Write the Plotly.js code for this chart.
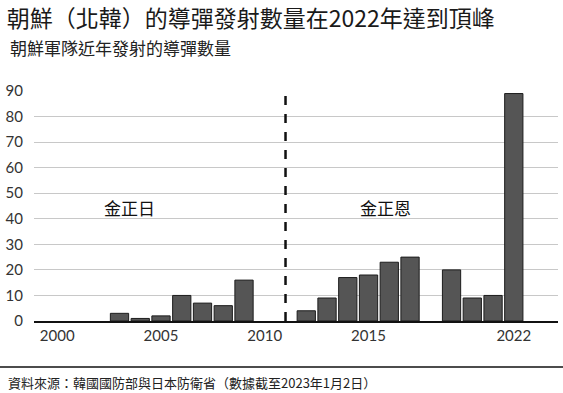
<!DOCTYPE html>
<html>
<head>
<meta charset="utf-8">
<script src="https://cdn.plot.ly/plotly-3.0.1.min.js"></script>
<style>html,body{margin:0;padding:0;background:#fff;}#chart{width:563px;height:393px;}</style>
</head>
<body>
<div id="chart"></div>
<script>
const years = [2000,2001,2002,2003,2004,2005,2006,2007,2008,2009,2010,2011,2012,2013,2014,2015,2016,2017,2018,2019,2020,2021,2022];
const launches = [0,0,0,3,1,2,10,7,6,16,0,0,4,9,17,18,23,25,0,20,9,10,89];
const tickYears = [2000,2005,2010,2015,2022];
const yTicks = [0,10,20,30,40,50,60,70,80,90];
const eraLabels = ["金正日","金正恩"];
const eraLabelX = [2003.5, 2015.8];
const eraLabelY = [44.5, 44.5];
const transitionYear = 2011;
const titleText = "朝鮮（北韓）的導彈發射數量在2022年達到頂峰";
const subtitleText = "朝鮮軍隊近年發射的導彈數量";
const sourceText = "資料來源：韓國國防部與日本防衛省（數據截至2023年1月2日）";

const cjk = '"Noto Sans CJK TC", "Noto Sans CJK SC", sans-serif';
const num = 'Lato, "DejaVu Sans", sans-serif';

const trace = {
  type: 'bar',
  x: years,
  y: launches,
  width: 0.88,
  marker: {color: '#555555', line: {color: '#1c1c1c', width: launches.map(v => v > 0 ? 1 : 0)}},
  hoverinfo: 'x+y'
};

const annotations = eraLabels.map((t, i) => ({
  x: eraLabelX[i], y: eraLabelY[i], xref: 'x', yref: 'y',
  text: t, showarrow: false, font: {family: cjk, size: 17, color: '#111'}
}));
annotations.push({
  x: -0.0496, y: 1.187, xref: 'paper', yref: 'paper', xanchor: 'left', yanchor: 'middle',
  text: subtitleText, showarrow: false, font: {family: cjk, size: 17, color: '#222'}
});
annotations.push({
  x: -0.054, y: -0.268, xref: 'paper', yref: 'paper', xanchor: 'left', yanchor: 'middle',
  text: sourceText, showarrow: false, font: {family: cjk, size: 13, color: '#222'}
});

const layout = {
  width: 563, height: 393,
  margin: {l: 34, r: 5, t: 91, b: 72},
  paper_bgcolor: '#fff', plot_bgcolor: '#fff',
  showlegend: false,
  title: {
    text: titleText, x: 0.012, xanchor: 'left', xref: 'container',
    y: 0.953, yanchor: 'middle', yref: 'container',
    font: {family: cjk, size: 23, color: '#1a1a1a'}
  },
  xaxis: {
    range: [1998.88, 2024.13],
    tickvals: tickYears,
    ticktext: tickYears.map(String),
    showgrid: false, zeroline: false,
    showline: true, linecolor: '#111', linewidth: 1.5,
    ticks: '',
    tickfont: {family: num, size: 15, color: '#333'},
    fixedrange: true
  },
  yaxis: {
    range: [0, 90],
    tickvals: yTicks,
    showgrid: true, gridcolor: '#c8c8c8', gridwidth: 1,
    zeroline: false, showline: false, ticks: '',
    ticklabelstandoff: 10,
    tickfont: {family: num, size: 15, color: '#333'},
    fixedrange: true
  },
  shapes: [
    {type: 'line', xref: 'x', yref: 'y', x0: transitionYear, x1: transitionYear, y0: 0, y1: 90,
     line: {color: '#111', width: 2.5, dash: 'dash'}},
    {type: 'line', xref: 'paper', yref: 'paper', x0: -34/524, x1: 1 + 5/524, y0: -0.2, y1: -0.2,
     line: {color: '#111', width: 1.5}}
  ],
  annotations: annotations,
  bargap: 0.1
};

Plotly.newPlot('chart', [trace], layout, {displayModeBar: false, staticPlot: true});
</script>
</body>
</html>
